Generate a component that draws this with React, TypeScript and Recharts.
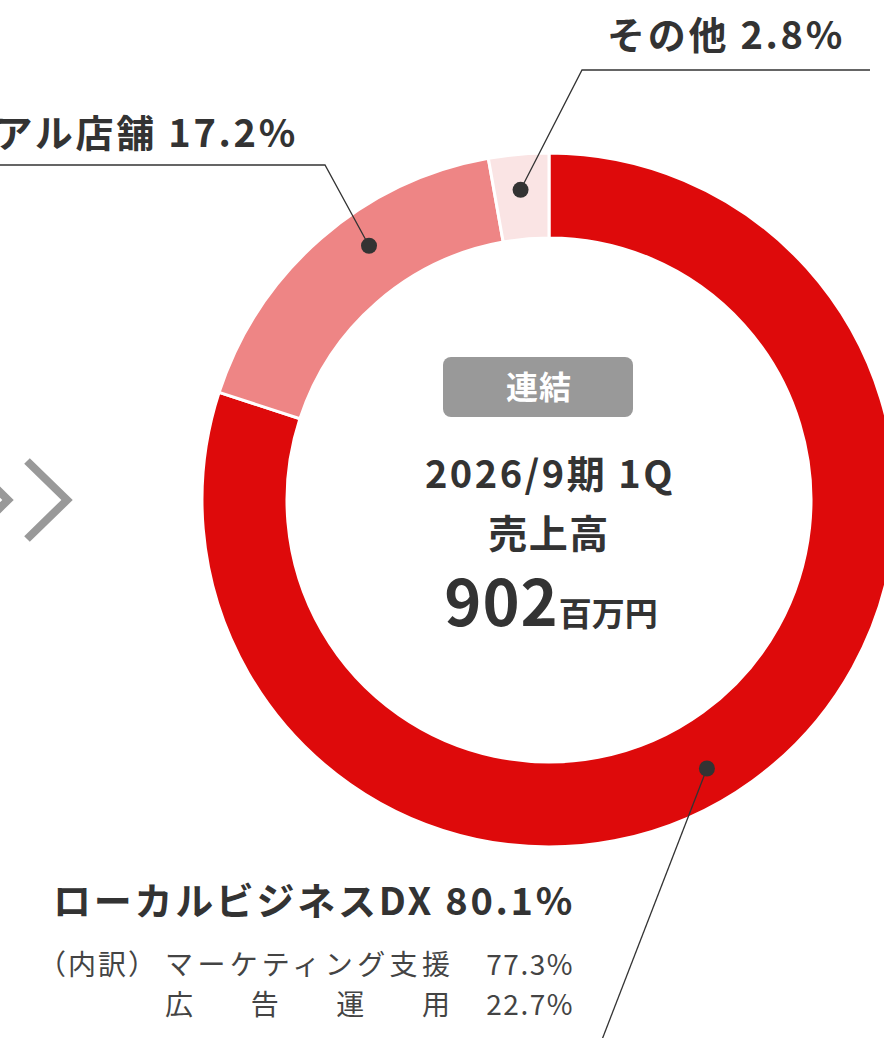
import React from 'react';
import { PieChart, Pie, Cell } from 'recharts';

// segment shares (%), drawn clockwise from 12 o'clock
const segmentNames = ['ローカルビジネスDX', 'リアル店舗', 'その他'];
const segmentShares = [80.1, 17.2, 2.8];
const segmentColors = ['#DE0A0B', '#EE8585', '#FAE4E4'];

// ローカルビジネスDX breakdown
const breakdownNames = ['マーケティング支援', '広　告　運　用'];
const breakdownShares = [77.3, 22.7];

const totalSales = 902;
const periodLabel = '2026/9期 1Q';

const TEXT = '#333333';
const FONT = '"Noto Sans CJK JP", "Noto Sans", sans-serif';
const RADIAN = Math.PI / 180;

const data = segmentNames.map((name, i) => ({ name, value: segmentShares[i] }));

// where each callout sits (dot angle nudge, leader path, text anchor)
const calloutLayout = [
  { shift: -5.5, elbow: null as null | [number, number], end: [598, 1050], tx: 575, ty: 915, anchor: 'end' },
  { shift: -5.7, elbow: [325, 165] as [number, number], end: [-10, 165], tx: 298, ty: 147, anchor: 'end' },
  { shift: 0.2, elbow: [582, 70] as [number, number], end: [870, 70], tx: 845, ty: 49, anchor: 'end' },
];

const renderCallout = (props: any) => {
  const { cx, cy, midAngle, innerRadius, outerRadius, index } = props;
  const lay = calloutLayout[index];
  const r = (innerRadius + outerRadius) / 2 + 7;
  const a = (midAngle + lay.shift) * RADIAN;
  const x = cx + r * Math.cos(a);
  const y = cy - r * Math.sin(a);
  const pts = [[x, y], ...(lay.elbow ? [lay.elbow] : []), lay.end]
    .map((p) => p.join(','))
    .join(' ');

  return (
    <g key={`callout-${index}`}>
      <polyline points={pts} fill="none" stroke={TEXT} strokeWidth={1.3} />
      <circle cx={x} cy={y} r={8} fill={TEXT} />
      <text
        x={lay.tx}
        y={lay.ty}
        textAnchor={lay.anchor as any}
        fill={TEXT}
        fontFamily={FONT}
        fontWeight={700}
        fontSize={38}
        letterSpacing={2.7}
      >
        {`${segmentNames[index]} ${segmentShares[index].toFixed(1)}%`}
      </text>
      {index === 0 &&
        breakdownNames.map((n, j) => (
          <g key={n}>
            {j === 0 && (
              <text x={38} y={975} fill="#444" fontFamily={FONT} fontSize={28} letterSpacing={2}>
                （内訳）
              </text>
            )}
            <text
              x={165}
              y={975 + j * 40}
              textLength={285}
              lengthAdjust="spacing"
              fill="#444"
              fontFamily={FONT}
              fontSize={28}
            >
              {n}
            </text>
            <text
              x={574}
              y={975 + j * 40}
              textAnchor="end"
              fill="#444"
              fontFamily={FONT}
              fontSize={28}
              letterSpacing={1.5}
            >
              {`${breakdownShares[j].toFixed(1)}%`}
            </text>
          </g>
        ))}
    </g>
  );
};

const App: React.FC = () => {
  return (
    <div style={{ position: 'absolute', left: 0, top: 0, width: 884, height: 1038, overflow: 'hidden', background: '#fff' }}>
      <PieChart width={884} height={1038} margin={{ top: 0, right: 0, bottom: 0, left: 0 }}>
        <Pie
          data={data}
          dataKey="value"
          nameKey="name"
          cx={549}
          cy={500}
          innerRadius={262}
          outerRadius={347}
          startAngle={90}
          endAngle={-270}
          stroke="#ffffff"
          strokeWidth={3}
          label={renderCallout}
          labelLine={false}
          isAnimationActive={false}
        >
          {data.map((d, i) => (
            <Cell key={d.name} fill={segmentColors[i]} />
          ))}
        </Pie>
      </PieChart>

      {/* center caption and the arrow marks on the left */}
      <svg
        width={884}
        height={1038}
        style={{ position: 'absolute', left: 0, top: 0, pointerEvents: 'none' }}
      >
        <polyline points="-32,461 8,500 -32,539" fill="none" stroke="#999" strokeWidth={8} />
        <polyline points="27,461 67,500 27,539" fill="none" stroke="#999" strokeWidth={8} />

        <rect x={443} y={357} width={190} height={60} rx={8} fill="#999999" />
        <text x={539} y={399} textAnchor="middle" fill="#fff" fontFamily={FONT} fontWeight={700} fontSize={32} letterSpacing={1}>
          連結
        </text>
        <text x={550} y={488} textAnchor="middle" fill={TEXT} fontFamily={FONT} fontWeight={700} fontSize={38} letterSpacing={2.5}>
          {periodLabel}
        </text>
        <text x={549} y={548} textAnchor="middle" fill={TEXT} fontFamily={FONT} fontWeight={700} fontSize={39} letterSpacing={1.5}>
          売上高
        </text>
        <text x={551} y={626} textAnchor="middle" fill={TEXT} fontFamily={FONT} fontWeight={700}>
          <tspan fontSize={63} letterSpacing={1}>{totalSales}</tspan>
          <tspan fontSize={33}>百万円</tspan>
        </text>
      </svg>
    </div>
  );
};

export default App;
